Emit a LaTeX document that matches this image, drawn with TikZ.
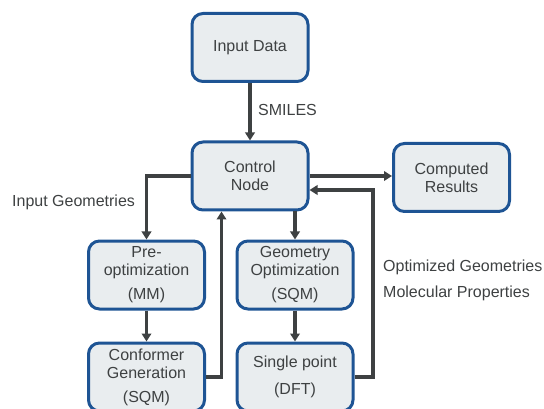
\documentclass[tikz,border=0pt]{standalone}
\usepackage{fontspec}
\setmainfont{Liberation Sans}
\usetikzlibrary{arrows.meta}
\definecolor{boxfill}{HTML}{E9EDEF}
\definecolor{boxline}{HTML}{1E5494}
\definecolor{linkgray}{HTML}{3E4142}
\begin{document}
\begin{tikzpicture}[x=1pt, y=-1pt,
    stage/.style={draw=boxline, fill=boxfill, line width=3pt, rounded corners=11pt,
      minimum width=116pt, minimum height=68pt, align=center, inner sep=2pt,
      text=linkgray, font=\fontsize{16}{18}\selectfont},
    link/.style={draw=linkgray, line width=3.3pt, -{Triangle[length=8pt,width=9.5pt]}},
    note/.style={text=linkgray, font=\fontsize{16}{18}\selectfont, inner sep=0pt, anchor=base west}]
  \useasboundingbox (0,0) rectangle (544,409);
  % boxes
  \node[stage] (input) at (250,47.5) {Input Data};
  \node[stage] (control) at (250,176) {Control\\Node};
  \node[stage] (results) at (451.5,177.5) {Computed\\Results};
  \node[stage] (preopt) at (146.5,275) {Pre-\\optimization\\[6pt](MM)};
  \node[stage] (geomopt) at (295,275) {Geometry\\Optimization\\[6pt](SQM)};
  \node[stage] (conformer) at (146.5,377) {Conformer\\Generation\\[6pt](SQM)};
  \node[stage] (single) at (295,377) {Single point\\[9pt](DFT)};
  % texts
  \node[note] (smiles) at (258,116) {SMILES};
  \node[note] (inputgeo) at (12,207) {Input Geometries};
  \node[note] (optgeo) at (383,272) {Optimized Geometries};
  \node[note] (molprop) at (383,297) {Molecular Properties};
  % connectors
  \coordinate (back) at (373,190);
  \draw[link] (input) -- (control);
  \draw[link] (control.east) -- (control.east -| results.west);
  \draw[link] (control.west) -| (preopt.north);
  \draw[link] (control.south -| geomopt.north) -- (geomopt.north);
  \draw[link] (preopt) -- (conformer);
  \draw[link] (geomopt) -- (single);
  \draw[link] (conformer.east) -| ([xshift=31pt]control.south west);
  \draw[link] (single.east) -| (back) -- (back -| control.east);
\end{tikzpicture}
\end{document}
